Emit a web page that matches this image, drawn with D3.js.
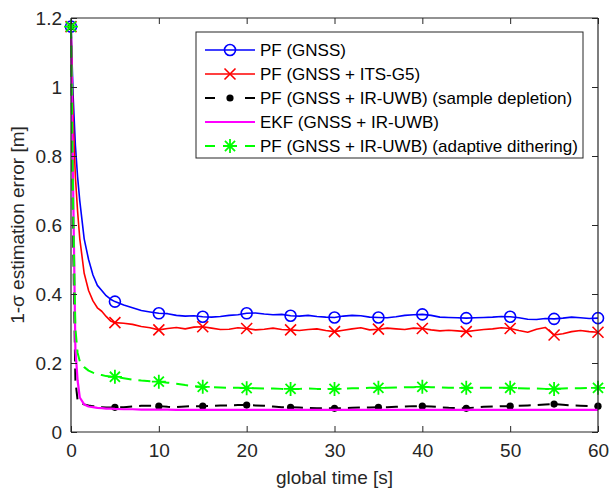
<!DOCTYPE html>
<html>
<head>
<meta charset="utf-8">
<script src="https://cdn.jsdelivr.net/npm/d3@7"></script>
<style>
  body { margin: 0; background: #fff; }
  svg { font-family: "Liberation Sans", Arial, sans-serif; }
</style>
</head>
<body>
<div id="container"></div>
<script>
// time grid: fine steps in the first seconds, then 1 s
var tEarly = [0, 0.25, 0.5, 0.75, 1, 1.5, 2, 2.5, 3, 3.5, 4, 4.5];
var times = tEarly.concat(d3.range(5, 61));
var markerTimes = [0, 5, 10, 15, 20, 25, 30, 35, 40, 45, 50, 55, 60];

var pfGnss = [1.175, 0.97, 0.83, 0.74, 0.67, 0.56, 0.50, 0.455, 0.425, 0.41, 0.395, 0.385,
  0.378, 0.368, 0.360, 0.352, 0.348, 0.344, 0.343, 0.338, 0.336, 0.337,
  0.334, 0.333, 0.335, 0.338, 0.340, 0.344, 0.345, 0.342, 0.340, 0.341,
  0.337, 0.336, 0.338, 0.335, 0.333, 0.332, 0.336, 0.338, 0.337, 0.333,
  0.332, 0.331, 0.334, 0.338, 0.340, 0.341, 0.338, 0.333, 0.332, 0.331,
  0.330, 0.331, 0.332, 0.333, 0.335, 0.334, 0.331, 0.327, 0.326, 0.329,
  0.328, 0.330, 0.333, 0.331, 0.329, 0.330];

var pfItsG5 = [1.175, 0.90, 0.74, 0.64, 0.56, 0.46, 0.41, 0.38, 0.36, 0.35, 0.335, 0.322,
  0.317, 0.315, 0.312, 0.306, 0.302, 0.296, 0.300, 0.303, 0.299, 0.304,
  0.305, 0.301, 0.297, 0.298, 0.302, 0.300, 0.296, 0.298, 0.301, 0.297,
  0.296, 0.294, 0.297, 0.299, 0.294, 0.291, 0.295, 0.299, 0.302, 0.296,
  0.298, 0.301, 0.299, 0.297, 0.301, 0.300, 0.296, 0.293, 0.295, 0.293,
  0.291, 0.294, 0.297, 0.299, 0.302, 0.300, 0.294, 0.289, 0.298, 0.303,
  0.281, 0.285, 0.291, 0.294, 0.291, 0.289];

var pfDepletion = [1.175, 0.55, 0.15, 0.092, 0.085, 0.080, 0.077, 0.075, 0.073, 0.072, 0.071, 0.071,
  0.0715, 0.072, 0.074, 0.076, 0.076, 0.075, 0.073, 0.072, 0.074, 0.075,
  0.075, 0.076, 0.077, 0.077, 0.078, 0.078, 0.077, 0.076, 0.074, 0.072,
  0.0715, 0.071, 0.070, 0.069, 0.069, 0.0686, 0.069, 0.070, 0.071, 0.071,
  0.0715, 0.072, 0.073, 0.074, 0.075, 0.075, 0.074, 0.072, 0.070, 0.069,
  0.0686, 0.071, 0.073, 0.074, 0.075, 0.075, 0.076, 0.077, 0.078, 0.080,
  0.081, 0.079, 0.077, 0.076, 0.075, 0.075];

var ekf = [1.175, 0.70, 0.24, 0.15, 0.10, 0.080, 0.074, 0.072, 0.070, 0.069, 0.068, 0.068,
  0.067, 0.066, 0.066, 0.065, 0.065, 0.065, 0.065, 0.064, 0.064, 0.064,
  0.064, 0.064, 0.064, 0.064, 0.064, 0.064, 0.064, 0.064, 0.064, 0.064,
  0.064, 0.064, 0.064, 0.064, 0.064, 0.064, 0.064, 0.064, 0.064, 0.064,
  0.064, 0.064, 0.064, 0.064, 0.064, 0.064, 0.064, 0.064, 0.064, 0.064,
  0.064, 0.064, 0.064, 0.064, 0.064, 0.064, 0.064, 0.064, 0.064, 0.064,
  0.064, 0.064, 0.064, 0.064, 0.064, 0.064];

var pfDithering = [1.175, 0.65, 0.30, 0.23, 0.205, 0.188, 0.178, 0.172, 0.168, 0.165, 0.162, 0.161,
  0.160, 0.156, 0.152, 0.149, 0.147, 0.146, 0.143, 0.140, 0.136, 0.133,
  0.131, 0.130, 0.129, 0.128, 0.128, 0.127, 0.127, 0.126, 0.126, 0.125,
  0.125, 0.125, 0.126, 0.125, 0.125, 0.125, 0.126, 0.127, 0.127, 0.128,
  0.128, 0.128, 0.129, 0.130, 0.130, 0.131, 0.130, 0.129, 0.128, 0.128,
  0.128, 0.128, 0.128, 0.128, 0.128, 0.128, 0.127, 0.126, 0.126, 0.125,
  0.125, 0.126, 0.127, 0.127, 0.128, 0.128];

var labels = [
  "PF (GNSS)",
  "PF (GNSS + ITS-G5)",
  "PF (GNSS + IR-UWB) (sample depletion)",
  "EKF (GNSS + IR-UWB)",
  "PF (GNSS + IR-UWB) (adaptive dithering)"
];

var xTicks = [0, 10, 20, 30, 40, 50, 60];
var yTicks = [0, 0.2, 0.4, 0.6, 0.8, 1, 1.2];

var series = [
  { values: pfGnss, color: "#0000ff", dash: null, marker: "circle", width: 1.6 },
  { values: pfItsG5, color: "#ff0000", dash: null, marker: "cross", width: 1.6 },
  { values: pfDepletion, color: "#000000", dash: "12,7", marker: "dot", width: 2 },
  { values: ekf, color: "#ff00ff", dash: null, marker: null, width: 2.2 },
  { values: pfDithering, color: "#00ff00", dash: "12,7", marker: "star", width: 2 }
];

var W = 609, H = 488;
var margin = { left: 71, right: 11, top: 18, bottom: 56 };
var axisColor = "#262626";

var svg = d3.select("#container").append("svg")
  .attr("width", W).attr("height", H);

var x = d3.scaleLinear().domain([0, 60]).range([margin.left, W - margin.right]);
var y = d3.scaleLinear().domain([0, 1.2]).range([H - margin.bottom, margin.top]);

var plot = svg.append("g");

svg.append("defs").append("clipPath").attr("id", "clip")
  .append("rect")
  .attr("x", margin.left).attr("y", margin.top - 10)
  .attr("width", x(60) - x(0)).attr("height", y(0) - y(1.2) + 10);

function drawMarker(g, type, cx, cy, color) {
  if (type === "circle") {
    g.append("circle").attr("cx", cx).attr("cy", cy).attr("r", 5.5)
      .attr("fill", "none").attr("stroke", color).attr("stroke-width", 1.6);
  } else if (type === "cross") {
    var s = 5.5;
    g.append("path")
      .attr("d", "M" + (cx - s) + "," + (cy - s) + "L" + (cx + s) + "," + (cy + s) +
        "M" + (cx - s) + "," + (cy + s) + "L" + (cx + s) + "," + (cy - s))
      .attr("stroke", color).attr("stroke-width", 1.6);
  } else if (type === "dot") {
    g.append("circle").attr("cx", cx).attr("cy", cy).attr("r", 3.6).attr("fill", color);
  } else if (type === "star") {
    var r = 7, d = r * 0.72;
    g.append("path")
      .attr("d", "M" + (cx - r) + "," + cy + "L" + (cx + r) + "," + cy +
        "M" + cx + "," + (cy - r) + "L" + cx + "," + (cy + r) +
        "M" + (cx - d) + "," + (cy - d) + "L" + (cx + d) + "," + (cy + d) +
        "M" + (cx - d) + "," + (cy + d) + "L" + (cx + d) + "," + (cy - d))
      .attr("stroke", color).attr("stroke-width", 1.8);
  }
}

var line = d3.line()
  .x(function (d, i) { return x(times[i]); })
  .y(function (d) { return y(d); });

series.forEach(function (s) {
  var g = plot.append("g");
  g.append("path")
    .datum(s.values)
    .attr("d", line)
    .attr("fill", "none")
    .attr("stroke", s.color)
    .attr("stroke-width", s.width)
    .attr("stroke-dasharray", s.dash)
    .attr("stroke-linejoin", "round");
  if (s.marker) {
    markerTimes.forEach(function (t) {
      var i = times.indexOf(t);
      drawMarker(g, s.marker, x(t), y(s.values[i]), s.color);
    });
  }
});

// axes box with inward ticks on all sides
var xAxisB = d3.axisBottom(x).tickValues(xTicks).tickSize(-6).tickPadding(12).tickFormat(d3.format("d"));
var xAxisT = d3.axisTop(x).tickValues(xTicks).tickSize(-6).tickFormat("");
var yAxisL = d3.axisLeft(y).tickValues(yTicks).tickSize(-6).tickPadding(9).tickFormat(function (d) { return d3.format("")(d); });
var yAxisR = d3.axisRight(y).tickValues(yTicks).tickSize(-6).tickFormat("");

function styleAxis(g) {
  g.select(".domain").attr("stroke", axisColor).attr("stroke-width", 1.2);
  g.selectAll(".tick line").attr("stroke", axisColor).attr("stroke-width", 1);
  g.selectAll(".tick text").attr("fill", axisColor)
    .style("font-size", "19px").style("font-family", "'Liberation Sans', Arial, sans-serif");
}

svg.append("g").attr("transform", "translate(0," + y(0) + ")").call(xAxisB).call(styleAxis)
  .call(function (g) { g.select(".domain").attr("d", "M" + x(0) + ",0H" + x(60)); });
svg.append("g").attr("transform", "translate(0," + y(1.2) + ")").call(xAxisT).call(styleAxis)
  .call(function (g) { g.select(".domain").attr("d", "M" + x(0) + ",0H" + x(60)); });
svg.append("g").attr("transform", "translate(" + x(0) + ",0)").call(yAxisL).call(styleAxis)
  .call(function (g) { g.select(".domain").attr("d", "M0," + y(0) + "V" + y(1.2)); });
svg.append("g").attr("transform", "translate(" + x(60) + ",0)").call(yAxisR).call(styleAxis)
  .call(function (g) { g.select(".domain").attr("d", "M0," + y(0) + "V" + y(1.2)); });

// axis labels
svg.append("text")
  .attr("x", (x(0) + x(60)) / 2).attr("y", H - 4)
  .attr("text-anchor", "middle").attr("fill", axisColor)
  .style("font-size", "19px")
  .text("global time [s]");

svg.append("text")
  .attr("transform", "translate(24," + ((y(0) + y(1.2)) / 2) + ") rotate(-90)")
  .attr("text-anchor", "middle").attr("fill", axisColor)
  .style("font-size", "19px")
  .text("1-σ estimation error [m]");

// legend
var lg = svg.append("g");
var lgX = 196, lgY = 32, lgW = 387, lgH = 126, rowH = 24;
lg.append("rect")
  .attr("x", lgX).attr("y", lgY).attr("width", lgW).attr("height", lgH)
  .attr("fill", "#fff").attr("stroke", axisColor).attr("stroke-width", 1);

series.forEach(function (s, i) {
  var cy = lgY + 18 + i * rowH;
  lg.append("path")
    .attr("d", "M" + (lgX + 9) + "," + cy + "H" + (lgX + 59))
    .attr("stroke", s.color).attr("stroke-width", s.width)
    .attr("stroke-dasharray", s.dash ? "10,30" : null);
  if (s.marker) drawMarker(lg, s.marker, lgX + 34, cy, s.color);
  lg.append("text")
    .attr("x", lgX + 64).attr("y", cy).attr("dy", "0.35em")
    .attr("fill", "#000")
    .style("font-size", "17px")
    .text(labels[i]);
});
</script>
</body>
</html>
